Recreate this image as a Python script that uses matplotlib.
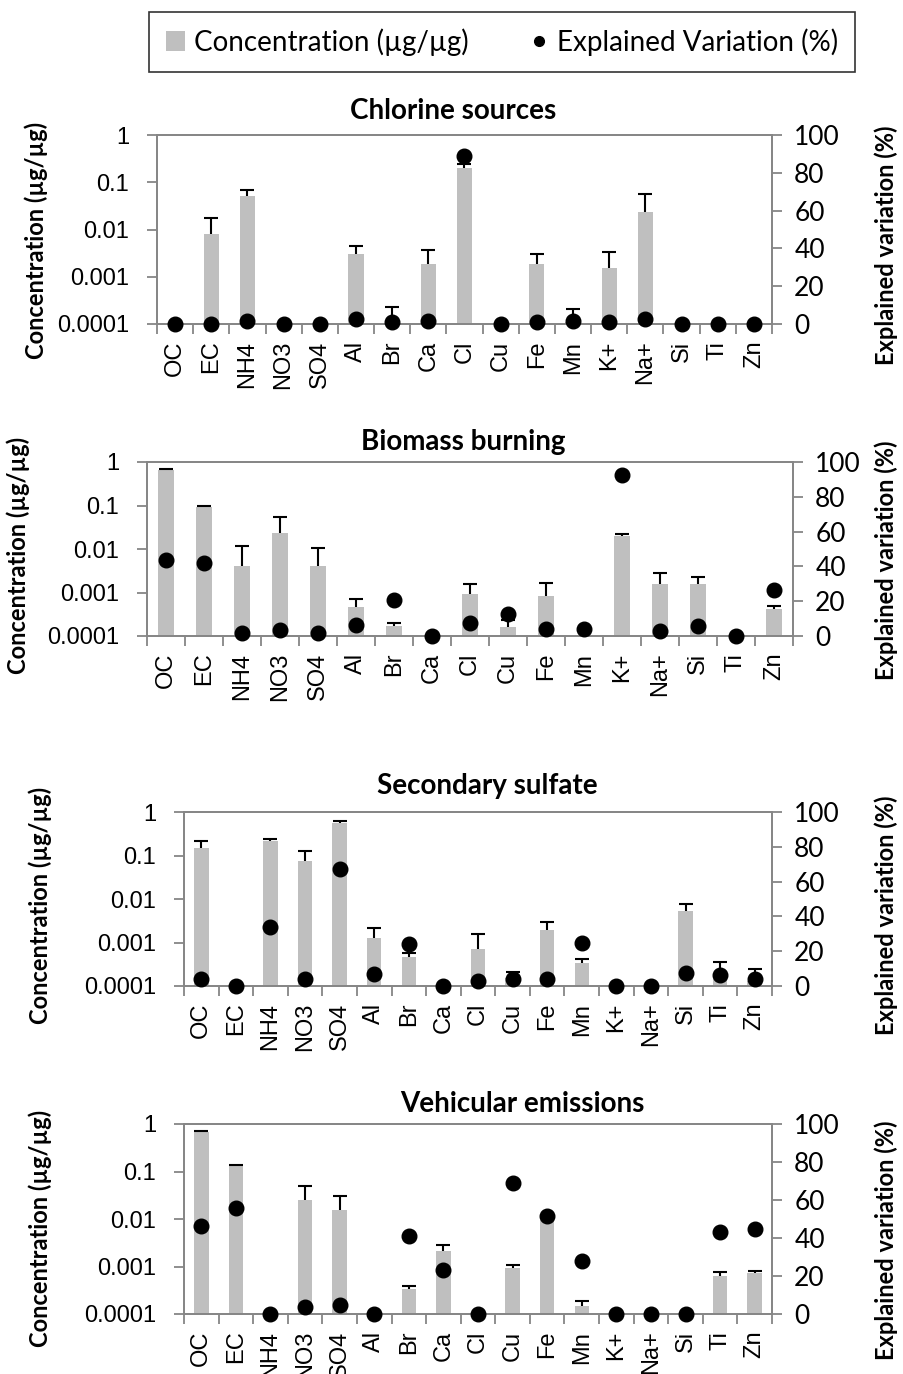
import numpy as np
import matplotlib
matplotlib.use("Agg")
from matplotlib import pyplot as plt
from matplotlib.patches import Patch
from matplotlib.lines import Line2D
from matplotlib.ticker import NullLocator, FixedLocator

nan = np.nan

especies = ['OC', 'EC', 'NH4', 'NO3', 'SO4', 'Al', 'Br', 'Ca', 'Cl', 'Cu', 'Fe',
            'Mn', 'K+', 'Na+', 'Si', 'Ti', 'Zn']

titulos = ['Chlorine sources', 'Biomass burning', 'Secondary sulfate', 'Vehicular emissions']

# concentracion (ug/ug), tope de la barra de error y variacion explicada (%)
conc_cloro = [nan, 0.0081, 0.051, nan, nan, 0.0030, 0.00011, 0.0019, 0.20, nan, 0.0019,
              0.00011, 0.0015, 0.023, nan, nan, nan]
error_cloro = [nan, 0.0174, 0.069, nan, nan, 0.0044, 0.00023, 0.0037, 0.24, nan, 0.0031,
               0.00021, 0.0034, 0.056, nan, nan, nan]
var_cloro = [0, 0, 1.8, 0, 0, 2.6, 1, 1.8, 89, 0, 1, 1.8, 0.9, 2.6, 0, 0, 0]

conc_biomasa = [0.64, 0.090, 0.0040, 0.023, 0.0040, 0.00046, 0.00017, nan, 0.00092, 0.00016,
                0.00083, nan, 0.020, 0.0016, 0.0016, nan, 0.00042]
error_biomasa = [0.69, 0.10, 0.0116, 0.053, 0.0108, 0.00071, 0.00020, nan, 0.00153, 0.00023,
                 0.00162, nan, 0.0227, 0.0028, 0.0023, nan, 0.00049]
var_biomasa = [43.6, 41.7, 1.9, 3.6, 1.5, 6.3, 20.7, 0, 7.3, 12.6, 3.8, 3.8, 92.7, 2.7, 5.5, 0, 26.4]

conc_sulfato = [0.15, nan, 0.22, 0.076, 0.56, 0.00125, 0.00047, nan, 0.00072, 0.00015, 0.0019,
                0.00033, nan, nan, 0.0052, 0.00016, 0.00013]
error_sulfato = [0.22, nan, 0.243, 0.124, 0.63, 0.0021, 0.00057, nan, 0.00155, 0.00021, 0.0030,
                 0.00041, nan, nan, 0.0077, 0.00036, 0.00024]
var_sulfato = [4.2, 0, 33.8, 4.2, 67.4, 7.1, 24.4, 0, 2.7, 3.8, 3.8, 24.6, 0, 0, 7.7, 6.1, 4.2]

conc_vehicular = [0.69, 0.129, nan, 0.025, 0.0156, nan, 0.00034, 0.0021, nan, 0.00091, 0.0117,
                  0.00015, nan, nan, nan, 0.00064, 0.00073]
error_vehicular = [0.72, 0.135, nan, 0.050, 0.030, nan, 0.00038, 0.0028, nan, 0.0011, nan,
                   0.00019, nan, nan, nan, 0.00075, 0.00082]
var_vehicular = [46.1, 55.9, 0, 3.7, 4.9, 0, 41.3, 23.3, 0, 69, 51.7, 27.8, 0, 0, 0, 43.4, 44.7]

concentraciones = [conc_cloro, conc_biomasa, conc_sulfato, conc_vehicular]
errores = [error_cloro, error_biomasa, error_sulfato, error_vehicular]
variaciones = [var_cloro, var_biomasa, var_sulfato, var_vehicular]

W, H = 904, 1374
# cajas de los ejes en pixeles: izquierda, derecha, arriba, abajo
cajas = [(157, 772, 135, 324), (147, 793, 462, 636), (184, 772, 812, 986), (184, 772, 1124, 1314)]
pos_titulo = [(453, 111), (463, 442), (487, 786), (522, 1104)]
pos_ylabel = [(36, 240, 886, 245), (18, 555, 886, 560), (40, 905, 886, 915), (40, 1228, 886, 1240)]

gris_eje = '#868686'
gris_barra = '#bfbfbf'
arial = 'Liberation Sans'
calibri = 'Lato'

fig = plt.figure(figsize=(W / 100, H / 100), dpi=100)

x = np.arange(len(especies))
for i in range(4):
    l, r, t, b = cajas[i]
    ax = fig.add_axes([l / W, 1 - b / H, (r - l) / W, (b - t) / H])
    conc = np.array(concentraciones[i])
    tope = np.array(errores[i])

    ax.bar(x, conc, width=0.42, color=gris_barra, zorder=2)
    ax.vlines(x, conc, tope, color='black', linewidth=1.5, zorder=3)
    ax.plot(x, tope, ls='', marker='_', ms=10, mew=1.5, color='black', zorder=3)

    ax.set_yscale('log')
    ax.set_ylim(1e-4, 1)
    ax.set_xlim(-0.5, len(especies) - 0.5)
    ax.yaxis.set_major_locator(FixedLocator([1e-4, 1e-3, 1e-2, 1e-1, 1]))
    ax.yaxis.set_minor_locator(NullLocator())
    ax.set_yticklabels(['0.0001', '0.001', '0.01', '0.1', '1'], fontsize=17, family=arial)
    ax.set_xticks(x)
    ax.set_xticklabels(especies, rotation=90, fontsize=17, family=arial)
    ax.set_xticks(np.arange(len(especies) + 1) - 0.5, minor=True)
    ax.tick_params(axis='x', which='major', length=0, pad=12)
    ax.tick_params(axis='x', which='minor', length=7, width=1.3, color=gris_eje)
    ax.tick_params(axis='y', length=7, width=1.3, color=gris_eje, pad=13)
    for s in ax.spines.values():
        s.set_color(gris_eje)
        s.set_linewidth(1.3)

    ax2 = ax.twinx()
    ax2.plot(x, variaciones[i], 'o', color='black', ms=10.5, clip_on=False, zorder=5)
    ax2.set_ylim(0, 100)
    ax2.set_yticks([0, 20, 40, 60, 80, 100])
    ax2.set_yticklabels(['0', '20', '40', '60', '80', '100'], fontsize=19, family=calibri)
    ax2.tick_params(axis='y', length=7, width=1.3, color=gris_eje, pad=9)
    for s in ax2.spines.values():
        s.set_color(gris_eje)
        s.set_linewidth(1.3)

    tx, ty = pos_titulo[i]
    fig.text(tx / W, 1 - ty / H, titulos[i], ha='center', va='center', fontsize=20,
             fontweight='bold', family=calibri)
    lx, ly, rx, ry = pos_ylabel[i]
    fig.text(lx / W, 1 - ly / H, 'Concentration (µg/µg)', rotation=90, ha='center', va='center',
             fontsize=17, fontweight='bold', family=calibri)
    fig.text(rx / W, 1 - ry / H, 'Explained variation (%)', rotation=90, ha='center', va='center',
             fontsize=17, fontweight='bold', family=calibri)

manijas = [Patch(facecolor=gris_barra, edgecolor='none'),
           Line2D([], [], ls='', marker='o', color='black', ms=7)]
leyenda = fig.legend(manijas, ['Concentration (µg/µg)', 'Explained Variation (%)'], ncol=2,
                     loc='center', bbox_to_anchor=(502 / W, 1 - 42 / H), frameon=True, fancybox=False,
                     prop={'family': calibri, 'size': 20}, handlelength=0.7, handleheight=0.7,
                     handletextpad=0.3, columnspacing=2.2, borderpad=0.6)
leyenda.get_frame().set_edgecolor('black')
leyenda.get_frame().set_linewidth(1.2)

fig.savefig('out.png', dpi=100)
